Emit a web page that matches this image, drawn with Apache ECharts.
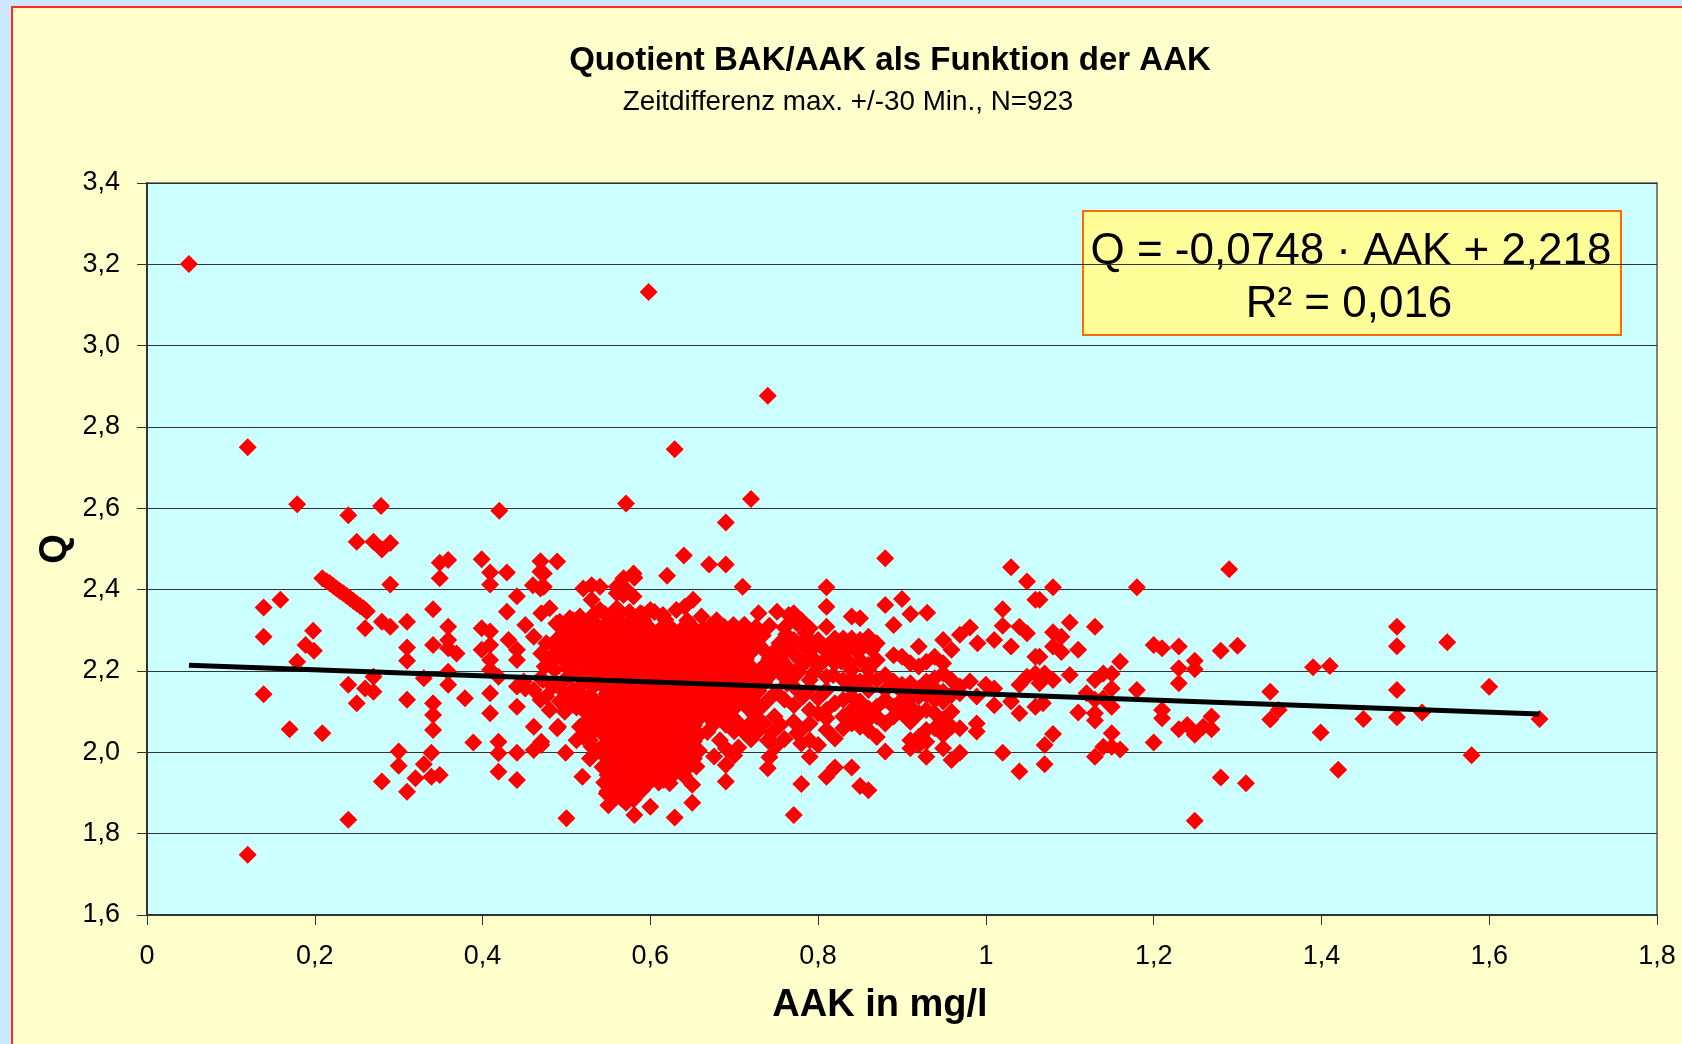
<!DOCTYPE html>
<html>
<head>
<meta charset="utf-8">
<title>Quotient BAK/AAK</title>
<script src="https://cdn.jsdelivr.net/npm/echarts@6.0.0/dist/echarts.min.js"></script>
<style>
  html, body { margin: 0; padding: 0; background: #CCE8FF; }
  #chart { width: 1682px; height: 1044px; }
</style>
</head>
<body>
<div id="chart"></div>
<script>
// tick labels (German decimal comma)
const xTickLabels = ['0', '0,2', '0,4', '0,6', '0,8', '1', '1,2', '1,4', '1,6', '1,8'];
const yTickLabels = ['1,6', '1,8', '2,0', '2,2', '2,4', '2,6', '2,8', '3,0', '3,2', '3,4'];

// regression line end points [AAK, Q]
const trendLine = [[0.05, 2.214], [1.66, 2.094]];

// isolated points, far from the cloud
const outliers = [
  [0.050,3.201],[0.598,3.132],[0.740,2.877],[0.120,2.750],[0.629,2.745],[0.720,2.623],[0.179,2.610],
  [0.571,2.612],[0.279,2.606],[0.420,2.594],[0.240,2.583],[0.690,2.565],[0.880,2.477],[1.290,2.450],
  [1.030,2.455],[0.120,1.748],[0.240,1.834],[0.500,1.838],[1.249,1.832],[0.771,1.846]
];

// AAK < 0,47
const leftPoints = [
  [0.139,2.356],[0.159,2.375],[0.139,2.284],[0.139,2.143],[0.170,2.057],[0.179,2.223],[0.189,2.264],
  [0.198,2.299],[0.199,2.250],[0.209,2.047],
  [0.209,2.428],[0.214,2.421],[0.218,2.416],[0.222,2.409],[0.226,2.403],[0.230,2.397],[0.234,2.391],
  [0.238,2.385],[0.242,2.379],[0.246,2.372],[0.250,2.366],[0.254,2.360],[0.258,2.354],[0.262,2.347],
  [0.240,2.166],[0.250,2.518],[0.250,2.121],[0.260,2.157],[0.260,2.305],[0.270,2.518],[0.270,2.149],
  [0.270,2.186],[0.280,2.499],[0.280,2.321],[0.280,1.928],[0.290,2.515],[0.290,2.413],[0.290,2.309],
  [0.300,2.002],[0.300,1.967],[0.310,2.321],[0.310,2.258],[0.310,2.225],[0.310,2.129],[0.310,1.903],
  [0.320,1.936],[0.330,2.182],[0.330,1.971],[0.339,1.999],[0.339,1.940],[0.341,2.352],[0.341,2.264],
  [0.341,2.121],[0.341,2.092],[0.341,2.055],[0.349,2.466],[0.349,2.428],[0.349,1.944],[0.359,2.473],
  [0.359,2.309],[0.359,2.276],[0.359,2.256],[0.359,2.198],[0.359,2.166],[0.369,2.243],[0.379,2.133],
  [0.389,2.024],[0.399,2.475],[0.399,2.305],[0.399,2.252],[0.409,2.442],[0.409,2.413],[0.409,2.297],
  [0.409,2.264],[0.409,2.227],[0.409,2.203],[0.409,2.145],[0.409,2.096],[0.419,2.186],[0.419,2.026],
  [0.419,1.998],[0.419,1.952],[0.429,2.442],[0.429,2.346],[0.431,2.276],[0.441,2.384],[0.441,2.252],
  [0.441,2.227],[0.441,2.162],[0.441,2.112],[0.441,1.999],[0.441,1.932],[0.449,2.174],[0.451,2.313],
  [0.451,2.157],[0.460,2.411],[0.461,2.284],[0.461,2.153],[0.461,2.063],[0.461,2.006],[0.469,2.470],
  [0.469,2.444],[0.469,2.403],[0.469,2.182],[0.469,2.129],[0.470,2.026]
];

// AAK 0,47 - 0,545
const leftShoulder = [
  [0.473,2.440],[0.473,2.407],[0.489,2.469],[0.480,2.354],[0.470,2.342],[0.520,2.403],[0.530,2.411],
  [0.540,2.407],[0.530,2.375],[0.540,2.350],
  [0.492,2.321],[0.504,2.330],[0.516,2.334],[0.528,2.325],[0.498,2.301],[0.510,2.305],[0.522,2.293],
  [0.534,2.301],[0.476,2.268],[0.488,2.276],[0.500,2.268],[0.512,2.272],[0.524,2.260],[0.536,2.264],
  [0.470,2.243],[0.482,2.235],[0.494,2.243],[0.506,2.231],[0.518,2.235],[0.534,2.227],[0.474,2.211],
  [0.486,2.203],[0.502,2.206],[0.514,2.194],[0.526,2.203],[0.538,2.194],[0.472,2.178],[0.484,2.162],
  [0.496,2.174],[0.508,2.153],[0.520,2.170],[0.532,2.162],[0.476,2.137],[0.492,2.125],[0.504,2.137],
  [0.532,2.129],[0.480,2.104],[0.498,2.100],[0.524,2.096],[0.536,2.104],[0.516,2.063],[0.530,2.047],
  [0.520,2.038],[0.530,2.014],[0.489,2.059],[0.470,2.018],[0.499,1.999],[0.519,1.940],[0.490,2.063],
  [0.512,2.030],[0.508,2.129],[0.500,2.112],[0.528,2.112],[0.488,2.235],[0.500,2.219],[0.508,2.268],
  [0.520,2.252],[0.488,2.317],[0.508,2.325],[0.520,2.317],[0.538,2.309],
  [0.496,2.290],[0.508,2.285],[0.520,2.280],[0.532,2.285],[0.490,2.255],[0.502,2.250],[0.514,2.255],
  [0.528,2.245],[0.510,2.215],[0.524,2.220],[0.502,2.185],[0.526,2.180],
  [0.496,2.150],[0.516,2.145],[0.528,2.140],[0.512,2.110],[0.522,2.120],
  [0.535,2.085],[0.523,2.075],[0.535,2.060],[0.528,2.030],[0.538,2.005],
  [0.528,1.985]
];

// points just above the dense core
const upperBody = [
  [0.560,2.391],[0.570,2.403],[0.560,2.354],[0.568,2.428],[0.580,2.440],[0.560,2.407],[0.568,2.387],
  [0.580,2.383],[0.581,2.429],[0.620,2.434],[0.640,2.484],[0.670,2.462],[0.690,2.462],[0.710,2.407],
  [0.588,2.342],[0.600,2.350],[0.631,2.350],[0.641,2.358],[0.651,2.375],[0.661,2.334],[0.548,2.317],
  [0.558,2.301],[0.568,2.313],[0.578,2.297],[0.553,2.325],[0.579,2.327],[0.592,2.323],[0.618,2.326],
  [0.644,2.324],[0.530,2.325],[0.533,2.340],[0.546,2.340],[0.560,2.335],[0.575,2.345],[0.590,2.340],
  [0.605,2.345],[0.615,2.338]
];

// solid core, AAK 0,54 - 0,665
const corePoints = [
  [0.547,2.305],[0.560,2.303],[0.573,2.307],[0.586,2.304],[0.599,2.306],[0.612,2.303],[0.625,2.306],[0.638,2.304],[0.651,2.307],[0.663,2.303],
  [0.541,2.286],[0.554,2.284],[0.567,2.287],[0.580,2.285],[0.593,2.283],[0.606,2.286],[0.619,2.284],[0.632,2.287],[0.645,2.284],[0.658,2.286],
  [0.548,2.265],[0.561,2.267],[0.574,2.264],[0.587,2.266],[0.600,2.264],[0.613,2.267],[0.626,2.265],[0.639,2.263],[0.652,2.266],[0.664,2.264],
  [0.542,2.245],[0.555,2.247],[0.568,2.244],[0.581,2.246],[0.594,2.244],[0.607,2.247],[0.620,2.245],[0.633,2.243],[0.646,2.246],[0.659,2.244],
  [0.548,2.226],[0.561,2.224],[0.574,2.227],[0.587,2.225],[0.600,2.223],[0.613,2.226],[0.626,2.224],[0.639,2.227],[0.652,2.225],[0.665,2.223],
  [0.542,2.204],[0.555,2.206],[0.568,2.204],[0.581,2.207],[0.594,2.205],[0.607,2.203],[0.620,2.206],[0.633,2.204],[0.646,2.207],[0.659,2.205],
  [0.548,2.185],[0.561,2.187],[0.574,2.184],[0.587,2.186],[0.600,2.184],[0.613,2.187],[0.626,2.185],[0.639,2.183],[0.652,2.186],[0.665,2.184],
  [0.542,2.166],[0.555,2.164],[0.568,2.167],[0.581,2.165],[0.594,2.163],[0.607,2.166],[0.620,2.164],[0.633,2.167],[0.646,2.165],[0.659,2.163],
  [0.548,2.144],[0.561,2.146],[0.574,2.144],[0.587,2.147],[0.600,2.145],[0.613,2.143],[0.626,2.146],[0.639,2.144],[0.652,2.147],[0.665,2.145],
  [0.542,2.125],[0.555,2.127],[0.568,2.124],[0.581,2.126],[0.594,2.124],[0.607,2.127],[0.620,2.125],[0.633,2.123],[0.646,2.126],[0.659,2.124],
  [0.548,2.106],[0.561,2.104],[0.574,2.107],[0.587,2.105],[0.600,2.103],[0.613,2.106],[0.626,2.104],[0.639,2.107],[0.652,2.105],[0.664,2.103],
  [0.542,2.084],[0.555,2.086],[0.568,2.084],[0.581,2.087],[0.594,2.085],[0.607,2.083],[0.620,2.086],[0.633,2.084],[0.646,2.087],[0.659,2.085],
  [0.548,2.065],[0.561,2.067],[0.574,2.064],[0.587,2.066],[0.600,2.064],[0.613,2.067],[0.626,2.065],[0.639,2.063],[0.652,2.066],
  [0.543,2.046],[0.555,2.044],[0.568,2.047],[0.581,2.045],[0.594,2.043],[0.607,2.046],[0.620,2.044],[0.633,2.047],[0.646,2.045],[0.658,2.043],
  [0.548,2.024],[0.561,2.026],[0.574,2.024],[0.587,2.027],[0.600,2.025],[0.613,2.023],[0.626,2.026],[0.639,2.024],[0.652,2.027],
  [0.542,2.005],[0.555,2.007],[0.568,2.004],[0.581,2.006],[0.594,2.004],[0.607,2.007],[0.620,2.005],[0.633,2.003],[0.646,2.006],[0.658,2.004],
  [0.548,1.986],[0.561,1.984],[0.574,1.987],[0.587,1.985],[0.600,1.983],[0.613,1.986],[0.626,1.984],[0.639,1.987],[0.652,1.985],
  [0.543,1.964],[0.556,1.966],[0.569,1.964],[0.582,1.967],[0.595,1.965],[0.608,1.963],[0.621,1.966],[0.634,1.964],[0.647,1.967],
  [0.549,1.945],[0.562,1.947],[0.575,1.944],[0.588,1.946],[0.601,1.944],[0.614,1.947],[0.627,1.945],[0.640,1.943],
  [0.545,1.926],[0.558,1.924],[0.571,1.927],[0.584,1.925],[0.597,1.923],[0.610,1.926],[0.623,1.924],
  [0.549,1.904],[0.562,1.906],[0.575,1.904],[0.590,1.907],[0.566,1.886],[0.580,1.884]
];

// below the core
const coreBottom = [
  [0.550,1.870],[0.571,1.876],[0.581,1.846],[0.600,1.866],[0.629,1.840],[0.650,1.876],[0.650,1.920],
  [0.548,1.899],[0.560,1.891],[0.588,1.907],[0.616,1.932],[0.655,1.965],[0.690,1.928],[0.690,1.969],
  [0.740,1.961]
];

// AAK 0,665 - 0,77
const rightShoulder = [
  [0.679,2.325],[0.699,2.313],[0.729,2.342],[0.751,2.346],[0.765,2.338],
  [0.672,2.312],[0.688,2.309],[0.712,2.314],[0.726,2.308],[0.742,2.311],[0.760,2.307],
  [0.668,2.290],[0.680,2.288],[0.694,2.292],[0.706,2.289],[0.720,2.291],[0.734,2.287],[0.762,2.290],
  [0.674,2.270],[0.687,2.268],[0.700,2.272],[0.713,2.269],[0.727,2.271],[0.754,2.268],[0.766,2.272],
  [0.668,2.250],[0.681,2.252],[0.694,2.249],[0.708,2.251],[0.721,2.248],[0.735,2.252],[0.748,2.249],[0.762,2.251],
  [0.674,2.230],[0.688,2.228],[0.700,2.232],[0.714,2.229],[0.742,2.231],[0.756,2.228],
  [0.668,2.210],[0.681,2.212],[0.694,2.209],[0.708,2.211],[0.721,2.208],[0.735,2.212],[0.749,2.209],[0.763,2.211],
  [0.674,2.190],[0.687,2.188],[0.701,2.192],[0.714,2.189],[0.728,2.191],[0.742,2.188],[0.756,2.192],
  [0.668,2.170],[0.681,2.172],[0.695,2.169],[0.708,2.171],[0.722,2.168],[0.736,2.172],[0.763,2.169],
  [0.674,2.150],[0.688,2.148],[0.701,2.152],[0.715,2.149],[0.729,2.151],[0.750,2.148],
  [0.668,2.130],[0.681,2.132],[0.695,2.129],[0.709,2.131],[0.722,2.128],[0.742,2.132],[0.760,2.129],
  [0.674,2.110],[0.688,2.108],[0.702,2.112],[0.716,2.109],[0.732,2.111],
  [0.668,2.090],[0.683,2.092],[0.697,2.089],[0.724,2.091],[0.748,2.088],
  [0.676,2.070],[0.690,2.068],[0.705,2.072],[0.718,2.069],[0.735,2.071],[0.755,2.068],
  [0.668,2.050],[0.700,2.052],[0.712,2.049],[0.728,2.051],[0.745,2.048],
  [0.683,2.030],[0.720,2.032],[0.740,2.029],[0.760,2.033],
  [0.690,2.010],[0.705,2.012],[0.749,2.014],
  [0.676,1.990],[0.700,1.992],[0.742,1.988]
];

// AAK 0,77 - 1,06
const midPoints = [
  [0.810,2.406],[1.049,2.420],[1.059,2.375],[0.810,2.358],[0.880,2.362],[0.900,2.377],[0.910,2.340],
  [0.930,2.343],[0.890,2.313],[0.840,2.334],[0.850,2.330],[1.020,2.352],[1.020,2.311],[1.040,2.309],
  [1.049,2.293],[0.981,2.307],[0.969,2.289],[0.990,2.268],[1.010,2.276],[1.030,2.260],[1.059,2.235],
  [0.920,2.260],[0.949,2.276],
  [0.771,2.342],[0.780,2.325],[0.790,2.305],[0.810,2.309],[0.771,2.276],[0.780,2.268],[0.800,2.276],
  [0.820,2.280],[0.830,2.280],[0.840,2.280],[0.850,2.276],[0.860,2.284],[0.870,2.268],[0.771,2.243],
  [0.790,2.248],[0.810,2.248],[0.830,2.243],[0.850,2.227],[0.870,2.227],[0.780,2.211],[0.800,2.211],
  [0.820,2.219],[0.840,2.203],[0.860,2.203],[0.771,2.186],[0.790,2.178],[0.810,2.186],[0.830,2.178],
  [0.850,2.174],[0.870,2.178],[0.880,2.190],[0.890,2.239],[0.900,2.235],[0.910,2.219],[0.920,2.211],
  [0.929,2.223],[0.939,2.235],[0.949,2.219],[0.959,2.252],[0.949,2.194],[0.939,2.182],[0.929,2.174],
  [0.910,2.170],[0.890,2.174],[0.900,2.166],[0.959,2.178],[0.969,2.162],[0.981,2.174],[1.000,2.166],
  [1.010,2.157],[1.040,2.166],[1.049,2.186],[1.059,2.194],[0.782,2.137],[0.771,2.116],[0.800,2.133],
  [0.810,2.104],[0.820,2.121],[0.830,2.129],[0.840,2.137],[0.850,2.125],[0.860,2.108],[0.870,2.112],
  [0.880,2.129],[0.890,2.112],[0.900,2.129],[0.910,2.133],[0.920,2.137],[0.929,2.141],[0.939,2.129],
  [0.949,2.125],[0.959,2.141],[0.969,2.145],[0.989,2.137],[1.010,2.116],[1.030,2.125],[1.040,2.096],
  [1.059,2.112],[0.771,2.075],[0.780,2.055],[0.790,2.071],[0.800,2.096],[0.810,2.084],[0.830,2.088],
  [0.840,2.071],[0.850,2.063],[0.860,2.055],[0.870,2.038],[0.890,2.088],[0.900,2.096],[0.910,2.075],
  [0.939,2.096],[0.949,2.080],[0.959,2.100],[0.969,2.059],[0.989,2.071],[0.989,2.051],[0.929,2.055],
  [0.939,2.059],[0.949,2.043],[0.959,2.063],[0.910,2.030],[0.920,2.018],[0.910,2.010],[0.929,2.026],
  [0.790,2.030],[0.800,2.018],[0.790,1.989],[0.820,2.034],[0.880,2.002],[0.929,1.989],[0.949,2.010],
  [0.959,1.981],[0.969,1.999],[1.020,1.999],[1.040,1.953],[0.820,1.963],[0.810,1.940],[0.840,1.963],
  [0.780,1.922],[0.850,1.917],[0.860,1.907],
  [0.775,2.317],[0.785,2.293],[0.794,2.268],[0.804,2.260],[0.814,2.264],[0.824,2.256],[0.834,2.260],
  [0.844,2.252],[0.854,2.260],[0.864,2.252],[0.778,2.227],[0.788,2.231],[0.798,2.223],[0.808,2.227],
  [0.818,2.235],[0.828,2.223],[0.838,2.219],[0.860,2.215],[0.775,2.194],[0.794,2.194],[0.818,2.190],
  [0.840,2.182],[0.860,2.182],[0.775,2.153],[0.790,2.157],[0.810,2.153],[0.840,2.157],[0.860,2.153],
  [0.880,2.153],[0.900,2.149],[0.920,2.157],[0.939,2.157],[0.949,2.149],[0.790,2.104],[0.840,2.104],
  [0.850,2.088],[0.870,2.088],[0.880,2.071],[0.860,2.080],[0.910,2.112],[0.920,2.096],[0.929,2.104],
  [0.775,2.047],[0.810,2.055],[0.830,2.059],[0.780,2.022],[0.920,2.038]
];

// AAK > 1,06
const rightPoints = [
  [1.080,2.406],[1.180,2.406],[1.064,2.375],[1.100,2.319],[1.130,2.309],[1.080,2.295],[1.090,2.284],
  [1.080,2.260],[1.090,2.247],[1.110,2.252],[1.064,2.235],[1.160,2.223],[1.200,2.264],[1.210,2.256],
  [1.230,2.260],[1.280,2.250],[1.300,2.262],[1.249,2.225],[1.249,2.204],[1.230,2.207],[1.230,2.170],
  [1.070,2.194],[1.080,2.178],[1.064,2.170],[1.100,2.190],[1.130,2.178],[1.140,2.194],[1.150,2.193],
  [1.150,2.157],[1.120,2.145],[1.180,2.153],[1.130,2.129],[1.140,2.133],[1.150,2.112],[1.068,2.121],
  [1.110,2.098],[1.130,2.096],[1.130,2.078],[1.210,2.104],[1.210,2.084],[1.230,2.057],[1.240,2.067],
  [1.249,2.043],[1.259,2.063],[1.269,2.088],[1.269,2.057],[1.339,2.149],[1.349,2.104],[1.339,2.081],
  [1.080,2.045],[1.070,2.018],[1.070,1.971],[1.150,2.047],[1.140,2.014],[1.130,1.989],[1.160,2.007],
  [1.150,2.014],[1.200,2.024],[1.280,1.938],[1.310,1.924],
  [1.390,2.209],[1.410,2.212],[1.399,2.049],[1.420,1.957],[1.450,2.082],[1.490,2.309],[1.490,2.261],
  [1.490,2.153],[1.490,2.086],[1.520,2.098],[1.550,2.271],[1.579,1.993],[1.600,2.161],[1.660,2.082]
];

const scatterData = [].concat(outliers, leftPoints, leftShoulder, upperBody, corePoints,
  coreBottom, rightShoulder, midPoints, rightPoints);

const FONT = '"Liberation Sans", Arial, sans-serif';
const chart = echarts.init(document.getElementById('chart'), null, { renderer: 'canvas' });

chart.setOption({
  animation: false,
  backgroundColor: '#CCE8FF',
  textStyle: { fontFamily: FONT, color: '#000' },
  title: [
    {
      text: 'Quotient BAK/AAK als Funktion der AAK',
      left: 885,
      top: 39,
      textAlign: 'center',
      textStyle: { fontSize: 33, fontWeight: 'bold', color: '#000', fontFamily: FONT }
    },
    {
      text: 'Zeitdifferenz max. +/-30 Min., N=923',
      left: 843,
      top: 83,
      textAlign: 'center',
      textStyle: { fontSize: 27.8, fontWeight: 'normal', color: '#000', fontFamily: FONT }
    }
  ],
  graphic: [
    {
      // yellow chart area with red frame
      type: 'rect',
      z: -100,
      silent: true,
      shape: { x: 12, y: 7, width: 1700, height: 1060 },
      style: { fill: '#FFFFCC', stroke: '#FF2A2A', lineWidth: 2 }
    },
    {
      type: 'group',
      z: 100,
      children: [
        {
          type: 'rect',
          shape: { x: 1083, y: 211, width: 538, height: 124 },
          style: { fill: '#FFFF99', stroke: '#FF6A00', lineWidth: 2 }
        },
        {
          type: 'text',
          style: {
            text: 'Q = -0,0748 · AAK + 2,218',
            x: 1351, y: 252,
            font: '44px ' + FONT,
            fill: '#000',
            textAlign: 'center', textVerticalAlign: 'middle',
            align: 'center', verticalAlign: 'middle'
          }
        },
        {
          type: 'text',
          style: {
            text: 'R² = 0,016',
            x: 1349, y: 305,
            font: '44px ' + FONT,
            fill: '#000',
            textAlign: 'center', textVerticalAlign: 'middle',
            align: 'center', verticalAlign: 'middle'
          }
        }
      ]
    }
  ],
  grid: {
    left: 147,
    top: 183,
    right: 25,
    bottom: 129,
    show: true,
    backgroundColor: '#CCFFFF',
    borderColor: '#808080',
    borderWidth: 2
  },
  xAxis: {
    type: 'value',
    min: 0,
    max: 1.8,
    interval: 0.2,
    name: 'AAK in mg/l',
    nameLocation: 'middle',
    nameGap: 72,
    nameMoveOverlap: false,
    nameTextStyle: { fontSize: 38, fontWeight: 'bold', color: '#000', fontFamily: FONT, padding: [0, 44, 0, 0] },
    axisLine: { show: true, onZero: false, lineStyle: { color: '#333', width: 2 } },
    axisTick: { show: true, length: 10, lineStyle: { color: '#333', width: 1 } },
    axisLabel: {
      margin: 28,
      fontSize: 27,
      color: '#000',
      fontFamily: FONT,
      formatter: v => xTickLabels[Math.round(v / 0.2)]
    },
    splitLine: { show: false }
  },
  yAxis: {
    type: 'value',
    min: 1.6,
    max: 3.4,
    interval: 0.2,
    name: 'Q',
    nameLocation: 'middle',
    nameGap: 72,
    nameMoveOverlap: false,
    nameTextStyle: { fontSize: 38, fontWeight: 'bold', color: '#000', fontFamily: FONT },
    axisLine: { show: true, onZero: false, lineStyle: { color: '#333', width: 2 } },
    axisTick: { show: true, length: 10, lineStyle: { color: '#333', width: 1 } },
    axisLabel: {
      margin: 27,
      fontSize: 27,
      color: '#000',
      fontFamily: FONT,
      formatter: v => yTickLabels[Math.round((v - 1.6) / 0.2)]
    },
    splitLine: { show: true, lineStyle: { color: '#333', width: 1.2 } }
  },
  series: [
    {
      name: 'Q',
      type: 'scatter',
      symbol: 'diamond',
      symbolSize: 18,
      itemStyle: { color: '#FF0000', opacity: 1 },
      data: scatterData,
      z: 2
    },
    {
      name: 'Trend',
      type: 'line',
      data: trendLine,
      symbol: 'none',
      lineStyle: { color: '#000', width: 5 },
      z: 5
    }
  ]
});
</script>
</body>
</html>
